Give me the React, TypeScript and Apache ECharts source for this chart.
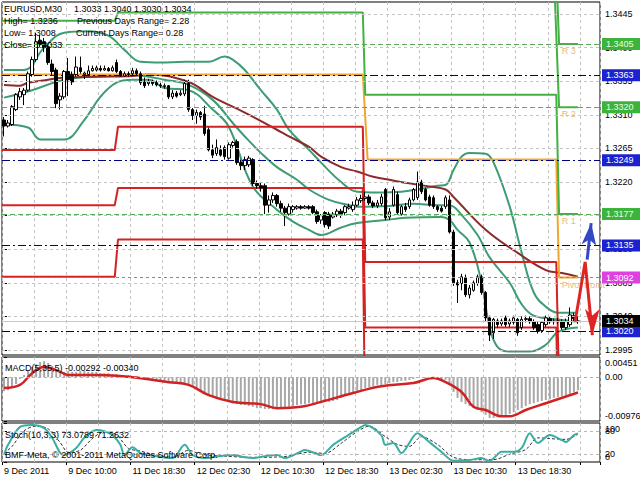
import React, { useEffect, useRef } from "react";
import * as echarts from "echarts";

const FONT = '"Liberation Sans", Arial, sans-serif';

// ---------- data ----------
// candles: [open, close, low, high]
const candles: number[][] = [
  [1.3303,1.3295,1.3281,1.3307],[1.3295,1.3299,1.3293,1.3303],[1.3297,1.3321,1.3295,1.3323],[1.3317,1.3337,1.3315,1.3339],
  [1.3334,1.3341,1.3330,1.3346],[1.3337,1.3343,1.3323,1.3346],[1.3343,1.3365,1.3341,1.3368],[1.3364,1.3384,1.3361,1.3388],
  [1.3384,1.3408,1.3381,1.3420],[1.3410,1.3404,1.3401,1.3417],[1.3408,1.3400,1.3394,1.3413],[1.3401,1.3380,1.3377,1.3404],
  [1.3378,1.3368,1.3362,1.3384],[1.3370,1.3325,1.3319,1.3373],[1.3330,1.3335,1.3317,1.3339],[1.3334,1.3368,1.3331,1.3370],
  [1.3368,1.3357,1.3335,1.3386],[1.3364,1.3354,1.3350,1.3368],[1.3364,1.3374,1.3361,1.3388],[1.3373,1.3368,1.3365,1.3388],
  [1.3364,1.3366,1.3358,1.3368],[1.3364,1.3369,1.3362,1.3376],[1.3369,1.3372,1.3368,1.3376],[1.3370,1.3373,1.3368,1.3376],
  [1.3372,1.3370,1.3368,1.3376],[1.3370,1.3372,1.3369,1.3376],[1.3372,1.3369,1.3368,1.3374],[1.3369,1.3373,1.3368,1.3376],
  [1.3380,1.3368,1.3366,1.3384],[1.3368,1.3362,1.3361,1.3370],[1.3362,1.3365,1.3361,1.3368],[1.3365,1.3364,1.3361,1.3368],
  [1.3365,1.3369,1.3362,1.3373],[1.3369,1.3365,1.3362,1.3372],[1.3365,1.3353,1.3350,1.3368],[1.3354,1.3349,1.3346,1.3360],
  [1.3352,1.3354,1.3349,1.3358],[1.3354,1.3352,1.3349,1.3357],[1.3353,1.3350,1.3348,1.3356],[1.3350,1.3349,1.3346,1.3353],
  [1.3349,1.3348,1.3345,1.3352],[1.3349,1.3334,1.3331,1.3350],[1.3334,1.3339,1.3331,1.3343],[1.3339,1.3335,1.3333,1.3342],
  [1.3337,1.3339,1.3335,1.3343],[1.3338,1.3352,1.3335,1.3357],[1.3352,1.3317,1.3314,1.3357],[1.3317,1.3309,1.3303,1.3319],
  [1.3309,1.3313,1.3298,1.3317],[1.3313,1.3307,1.3303,1.3315],[1.3311,1.3285,1.3282,1.3322],[1.3290,1.3263,1.3261,1.3293],
  [1.3263,1.3256,1.3252,1.3270],[1.3258,1.3266,1.3255,1.3277],[1.3263,1.3256,1.3254,1.3269],[1.3266,1.3254,1.3250,1.3269],
  [1.3252,1.3270,1.3250,1.3273],[1.3269,1.3273,1.3266,1.3275],[1.3274,1.3246,1.3243,1.3277],[1.3246,1.3242,1.3236,1.3250],
  [1.3242,1.3250,1.3236,1.3254],[1.3243,1.3252,1.3240,1.3255],[1.3250,1.3218,1.3215,1.3252],[1.3218,1.3215,1.3211,1.3222],
  [1.3215,1.3212,1.3207,1.3219],[1.3215,1.3189,1.3177,1.3218],[1.3189,1.3196,1.3179,1.3202],[1.3196,1.3202,1.3192,1.3206],
  [1.3202,1.3191,1.3187,1.3204],[1.3191,1.3185,1.3180,1.3195],[1.3185,1.3179,1.3161,1.3188],[1.3177,1.3187,1.3175,1.3191],
  [1.3183,1.3187,1.3179,1.3189],[1.3185,1.3187,1.3183,1.3189],[1.3187,1.3185,1.3183,1.3189],[1.3185,1.3187,1.3184,1.3189],
  [1.3187,1.3185,1.3183,1.3189],[1.3187,1.3179,1.3177,1.3189],[1.3180,1.3167,1.3164,1.3183],[1.3169,1.3175,1.3164,1.3177],
  [1.3179,1.3163,1.3159,1.3181],[1.3177,1.3161,1.3157,1.3180],[1.3173,1.3177,1.3171,1.3180],[1.3176,1.3181,1.3173,1.3184],
  [1.3181,1.3176,1.3172,1.3184],[1.3179,1.3187,1.3176,1.3189],[1.3185,1.3187,1.3183,1.3191],[1.3183,1.3189,1.3180,1.3194],
  [1.3189,1.3196,1.3187,1.3200],[1.3195,1.3198,1.3192,1.3203],[1.3198,1.3200,1.3195,1.3207],[1.3200,1.3192,1.3189,1.3203],
  [1.3192,1.3188,1.3185,1.3195],[1.3188,1.3192,1.3185,1.3196],[1.3191,1.3200,1.3188,1.3204],[1.3210,1.3172,1.3169,1.3212],
  [1.3173,1.3180,1.3169,1.3185],[1.3189,1.3210,1.3187,1.3214],[1.3203,1.3179,1.3176,1.3207],[1.3177,1.3187,1.3175,1.3189],
  [1.3187,1.3183,1.3180,1.3192],[1.3187,1.3196,1.3184,1.3199],[1.3196,1.3210,1.3194,1.3212],[1.3199,1.3220,1.3196,1.3234],
  [1.3220,1.3207,1.3204,1.3223],[1.3210,1.3196,1.3194,1.3212],[1.3200,1.3189,1.3187,1.3203],[1.3199,1.3187,1.3184,1.3202],
  [1.3187,1.3183,1.3180,1.3189],[1.3185,1.3181,1.3179,1.3188],[1.3187,1.3199,1.3184,1.3202],[1.3196,1.3153,1.3151,1.3202],
  [1.3153,1.3085,1.3081,1.3156],[1.3085,1.3082,1.3058,1.3089],[1.3084,1.3093,1.3075,1.3097],[1.3092,1.3069,1.3066,1.3096],
  [1.3069,1.3078,1.3064,1.3082],[1.3075,1.3085,1.3073,1.3088],[1.3084,1.3093,1.3081,1.3096],[1.3093,1.3072,1.3069,1.3096],
  [1.3072,1.3038,1.3033,1.3074],[1.3038,1.3015,1.3007,1.3041],[1.3018,1.3036,1.3010,1.3038],[1.3034,1.3029,1.3025,1.3037],
  [1.3030,1.3034,1.3027,1.3037],[1.3038,1.3029,1.3026,1.3041],[1.3030,1.3034,1.3026,1.3037],[1.3032,1.3038,1.3029,1.3041],
  [1.3036,1.3018,1.3014,1.3038],[1.3025,1.3036,1.3022,1.3040],[1.3036,1.3037,1.3032,1.3041],[1.3037,1.3033,1.3030,1.3040],
  [1.3033,1.3025,1.3022,1.3036],[1.3029,1.3020,1.3017,1.3033],[1.3021,1.3032,1.3018,1.3034],[1.3029,1.3038,1.3026,1.3041],
  [1.3037,1.3033,1.3030,1.3040],[1.3033,1.3034,1.3029,1.3037],[1.3034,1.3033,1.3030,1.3038],[1.3033,1.3025,1.3022,1.3036],
  [1.3025,1.3033,1.3022,1.3037],[1.3029,1.3042,1.3026,1.3052],[1.3041,1.3037,1.3033,1.3045],[1.3033,1.3034,1.3030,1.3040],
];

const timeLabels = ["9 Dec 2011", "9 Dec 10:00", "11 Dec 18:30", "12 Dec 02:30", "12 Dec 10:30", "12 Dec 18:30", "13 Dec 02:30", "13 Dec 10:30", "13 Dec 18:30"];
const labelEvery = 16;
const slotCount = 149;

const priceMin = 1.29883;
const priceMax = 1.34611;
const priceTicks = [1.2995, 1.304, 1.3085, 1.313, 1.3175, 1.322, 1.3265, 1.331, 1.3355, 1.34, 1.3445];

// [bar index, price]
const bbUpper: number[][] = [[0,1.3370],[5,1.3370],[10,1.3400],[15,1.3420],[21,1.3422],[26,1.3416],[30,1.3397],[34,1.3381],[39,1.3380],[45,1.3381],[51,1.3381],[55,1.3388],[57,1.3384],[60,1.3370],[64,1.3343],[68,1.3317],[71,1.3290],[76,1.3263],[79,1.3246],[84,1.3220],[88,1.3207],[93,1.3206],[99,1.3207],[103,1.3210],[108,1.3215],[110,1.3216],[112,1.3236],[114,1.3254],[116,1.3259],[120,1.3258],[122,1.3246],[126,1.3187],[129,1.3125],[132,1.3072],[135,1.3053],[138,1.3045],[143,1.3045]];
const bbMiddle: number[][] = [[0,1.3333],[7,1.3343],[15,1.3357],[24,1.3362],[31,1.3364],[35,1.3362],[40,1.3357],[46,1.3350],[52,1.3330],[57,1.3299],[60,1.3281],[64,1.3259],[68,1.3240],[73,1.3223],[76,1.3210],[81,1.3196],[86,1.3189],[88,1.3187],[96,1.3188],[102,1.3191],[108,1.3189],[111,1.3189],[114,1.3176],[118,1.3149],[121,1.3119],[126,1.3085],[129,1.3056],[132,1.3041],[138,1.3036],[143,1.3033]];
const bbLower: number[][] = [[0,1.3297],[6,1.3293],[9,1.3277],[15,1.3277],[20,1.3303],[24,1.3334],[28,1.3353],[32,1.3357],[36,1.3357],[40,1.3346],[46,1.3343],[52,1.3317],[56,1.3294],[62,1.3214],[68,1.3183],[72,1.3167],[76,1.3156],[79,1.3149],[84,1.3159],[88,1.3165],[95,1.3169],[100,1.3172],[109,1.3173],[111,1.3169],[113,1.3156],[116,1.3139],[119,1.3085],[121,1.3026],[123,1.2999],[126,1.2993],[131,1.2993],[135,1.3002],[138,1.3019],[143,1.3025]];
const maLine: number[][] = [[0,1.3350],[4,1.3349],[6,1.3353],[11,1.3357],[15,1.3360],[24,1.3361],[32,1.3362],[36,1.3364],[46,1.3354],[52,1.3334],[60,1.3313],[68,1.3290],[71,1.3281],[76,1.3267],[79,1.3254],[84,1.3240],[88,1.3234],[92,1.3227],[96,1.3223],[100,1.3219],[106,1.3214],[110,1.3210],[112,1.3200],[120,1.3156],[128,1.3125],[135,1.3102],[139,1.3098],[143,1.3093]];

// daily pivot levels (stepped)
const pivotS1: number[][] = [[-0.5,1.3263],[27.6,1.3263],[28.4,1.3294],[89.4,1.3294],[90,1.3113],[137.6,1.3113],[138.3,1.2948],[143,1.2948]];
const pivotS2: number[][] = [[-0.5,1.3189],[27.6,1.3189],[28.4,1.3212],[89.4,1.3212],[90,1.3025],[137.6,1.3025],[138.3,1.2864],[143,1.2864]];
const pivotS3: number[][] = [[-0.5,1.3093],[27.6,1.3093],[28.4,1.3143],[89.4,1.3143],[90,1.2889],[137.6,1.2889],[138.3,1.2720],[143,1.2720]];
const pivotP: number[][] = [[-0.5,1.3364],[89.4,1.3364],[90.6,1.3250],[137.6,1.3250],[138.3,1.3092],[143,1.3092]];
const pivotR1: number[][] = [[-0.5,1.3436],[27.6,1.3436],[28.4,1.3447],[89.4,1.3447],[90,1.3337],[137.6,1.3337],[138.3,1.3177],[143,1.3177]];
const pivotR2: number[][] = [[137.2,1.3474],[138.3,1.3320],[143,1.3320]];
const pivotR3: number[][] = [[137.2,1.3561],[138.3,1.3405],[143,1.3405]];
const pivotLabelNames = ["R 3", "R 2", "R 1", "Pivot Point"];
const pivotLabelLevels = [1.3405, 1.332, 1.3177, 1.3092];
const pivotLabelIndex = 138;

const navyLevels = [1.3363, 1.3249, 1.3135, 1.302];
const greenLevels = [1.3405, 1.332, 1.3177];
const magentaLevels = [1.3092];
const bidLevel = 1.3034;

const redArrow: number[][] = [[142.3,1.3033],[144.8,1.3113],[146.6,1.3015]];
const blueArrow: number[][] = [[145.3,1.3116],[146.3,1.3165]];

const macdHist = [
  -0.0031,-0.0029,-0.0024,-0.0015,-0.0004,0.0005,0.0014,0.0023,0.0029,0.0034,0.0036,0.0032,0.0025,0.0016,0.0012,0.0012,
  0.0014,0.0012,0.0012,0.0014,0.0014,0.0012,0.0012,0.0012,0.0009,0.0009,0.0009,0.0007,0.0007,0.0005,0.0005,0.0005,
  0.0003,0.0003,0.0000,-0.0002,-0.0004,-0.0006,-0.0006,-0.0008,-0.0008,-0.0011,-0.0013,-0.0013,-0.0013,-0.0015,-0.0017,-0.0022,
  -0.0026,-0.0031,-0.0035,-0.0040,-0.0044,-0.0049,-0.0051,-0.0053,-0.0055,-0.0058,-0.0060,-0.0062,-0.0062,-0.0064,-0.0066,-0.0069,
  -0.0069,-0.0071,-0.0071,-0.0071,-0.0071,-0.0069,-0.0069,-0.0066,-0.0064,-0.0062,-0.0060,-0.0060,-0.0058,-0.0058,-0.0058,-0.0058,
  -0.0055,-0.0055,-0.0053,-0.0051,-0.0046,-0.0042,-0.0037,-0.0035,-0.0033,-0.0029,-0.0024,-0.0022,-0.0020,-0.0017,-0.0017,-0.0015,
  -0.0013,-0.0011,-0.0011,-0.0008,-0.0008,-0.0006,-0.0004,0.0000,0.0000,-0.0002,-0.0002,-0.0004,-0.0006,-0.0006,-0.0006,-0.0013,
  -0.0033,-0.0046,-0.0055,-0.0060,-0.0064,-0.0069,-0.0073,-0.0078,-0.0084,-0.0091,-0.0091,-0.0089,-0.0087,-0.0084,-0.0082,-0.0078,
  -0.0073,-0.0069,-0.0064,-0.0060,-0.0058,-0.0055,-0.0053,-0.0051,-0.0049,-0.0046,-0.0044,-0.0042,-0.0040,-0.0037,-0.0033,-0.00292,
];
const macdSignal: number[][] = [[0,-0.0024],[4,-0.0017],[7,0.0009],[10,0.0023],[14,0.0012],[16,0.0005],[24,0.0005],[32,0.0],[41,-0.0011],[46,-0.0017],[51,-0.0040],[57,-0.0055],[64,-0.0060],[68,-0.0069],[74,-0.0066],[79,-0.0055],[87,-0.0035],[94,-0.0020],[102,-0.0013],[107,-0.0002],[110,-0.0011],[114,-0.0033],[117,-0.0066],[120,-0.0073],[124,-0.0087],[126,-0.0087],[130,-0.0073],[135,-0.0058],[143,-0.0034]];
const macdMin = -0.00976;
const macdMax = 0.00451;
const macdTicks = [0.00451, 0, -0.00976];
const macdTickLabels = ["0.00451", "0.00", "-0.00976"];

const stochMain: number[][] = [[0,18],[1,44],[4,90],[7,95],[10,87],[12,62],[14,23],[15,18],[18,36],[20,62],[23,82],[25,79],[27,69],[29,44],[30,18],[32,38],[34,23],[36,18],[39,13],[42,10],[45,44],[47,18],[50,10],[53,14],[57,18],[60,12],[62,10],[65,15],[68,18],[70,10],[73,22],[75,31],[79,18],[82,44],[85,64],[89,90],[90,95],[94,69],[95,44],[97,49],[99,23],[103,74],[106,51],[109,26],[112,3],[116,5],[119,10],[121,3],[124,26],[127,26],[129,36],[131,74],[133,49],[136,69],[139,56],[140,51],[142,69],[143,73.08]];
const stochSignal: number[][] = [[0,22],[2,40],[5,80],[8,92],[11,85],[14,50],[16,25],[19,30],[22,60],[25,78],[28,70],[31,35],[34,28],[37,20],[42,12],[46,30],[49,20],[55,15],[62,12],[70,14],[76,25],[80,22],[84,48],[88,78],[91,92],[95,65],[98,45],[101,40],[104,65],[108,45],[112,12],[117,6],[122,6],[126,20],[130,32],[133,62],[136,60],[140,58],[143,71.26]];
const stochTicks = [100, 80, 20, 0];
const stochTickLabels = ["100", "80", "20", "0"];
const stochLevels = [80, 20];

const headerLeft = ["EURUSD,M30", "High= 1.3236", "Low= 1.3008", "Close= 1.3033"];
const headerRight = ["Previous Days Range= 2.28", "Current Days Range= 0.28"];
const macdTitle = "MACD(5,35,5) -0.00292 -0.00340";
const stochTitle = "Stoch(10,3,3) 73.0789 71.2632";
const copyright = "BMF-Meta, \u00A9 2001-2011 MetaQuotes Software Corp.";

// ---------- option ----------
const textEl = (id: string, t: string, x: number, y: number) => ({
  id, type: "text", x, y, z: 100, silent: true,
  style: { text: t, fill: "#000", font: `9px ${FONT}`, verticalAlign: "middle", align: "left" },
});

function headerGraphics(): any[] {
  const last = candles[candles.length - 1];
  const ohlcText = [last[0], last[3], last[2], last[1]].map((v) => v.toFixed(4)).join(" ");
  return [
    textEl("h0", headerLeft[0], 4, 9),
    textEl("h1", ohlcText, 74, 9),
    textEl("h2", headerLeft[1], 4, 21),
    textEl("h3", headerRight[0], 77, 21),
    textEl("h4", headerLeft[2], 4, 33),
    textEl("h5", headerRight[1], 76, 33),
    textEl("h6", headerLeft[3], 4, 45),
    textEl("h7", macdTitle, 5, 368),
    textEl("h8", stochTitle, 5, 435),
    textEl("h9", copyright, 5, 455),
  ];
}

function buildOption(): any {
  const cats = Array.from({ length: slotCount }, (_, i) => String(i));
  const grid = (top: number, height: number) => ({
    left: 2, top, width: 598, height, show: true, borderColor: "#000", borderWidth: 1, backgroundColor: "#fff",
  });
  const split = { show: true, interval: 7, lineStyle: { color: "#c4c4c4", type: [3, 3], width: 1 } };
  const catAxis = (gi: number, labels: boolean) => ({
    type: "category", gridIndex: gi, data: cats, boundaryGap: true,
    axisLine: { show: false },
    axisTick: labels ? { show: true, interval: labelEvery - 1, length: 3, lineStyle: { color: "#000" } } : { show: false },
    axisLabel: labels
      ? { show: true, interval: labelEvery - 1, align: "left", margin: 4, color: "#000", fontFamily: FONT, fontSize: 9,
          formatter: (_v: string, idx: number) => timeLabels[idx / labelEvery] ?? "" }
      : { show: false },
    splitLine: split,
  });
  const valAxis = (gi: number) => ({ type: "value", gridIndex: gi, min: -0.5, max: slotCount - 0.5, show: false });
  const lbl = { color: "#000", fontFamily: FONT, fontSize: 9 };

  const lineS = (data: number[][], color: string, width: number, extra: any = {}) => ({
    type: "line", xAxisIndex: 1, yAxisIndex: 0, data, showSymbol: false, symbol: "none", silent: true,
    lineStyle: { color, width }, z: 2, ...extra,
  });

  const boxLabel = (v: number, bg: string, fg = "#fff") => ({
    show: true, position: "end", distance: 2, formatter: v.toFixed(4), backgroundColor: bg, color: fg,
    padding: [1, 10, 0, 4], fontFamily: FONT, fontSize: 9, lineHeight: 11,
  });

  const levelData: any[] = [
    ...greenLevels.map((v) => ({ yAxis: v, lineStyle: { color: "#5aa85a", type: [5, 3], width: 1 }, label: boxLabel(v, "#3cb43c", "#e8ffe8") })),
    ...navyLevels.map((v) => ({ yAxis: v, lineStyle: { color: "#000080", type: [8, 3, 2, 3], width: 1 }, label: boxLabel(v, "#1c22d0") })),
    ...magentaLevels.map((v) => ({ yAxis: v, lineStyle: { color: "#c060c0", type: [3, 3], width: 1 }, label: boxLabel(v, "#e040e0") })),
    { yAxis: bidLevel, lineStyle: { color: "#c8c8c8", type: "solid", width: 1 }, label: boxLabel(bidLevel, "#000") },
  ];

  const arrowData = (pts: number[][], size: number[], rot: number) =>
    pts.map((p, k) => k === pts.length - 1
      ? { value: p, symbol: "arrow", symbolSize: size, symbolRotate: rot }
      : { value: p, symbol: "none" });

  const sideAxis = (gi: number, min: number, max: number, ticks: number[], withLabels: boolean) => ({
    type: "value", gridIndex: gi, position: "right", min, max,
    axisLine: { show: false }, splitLine: { show: false },
    axisTick: { show: true, customValues: ticks, length: 3, lineStyle: { color: "#000" } },
    axisLabel: withLabels
      ? { ...lbl, customValues: ticks, margin: 5, formatter: (v: number) => v.toFixed(4) }
      : { show: false },
  });

  return {
    animation: false,
    backgroundColor: "#fff",
    textStyle: { fontFamily: FONT, fontSize: 9 },
    grid: [grid(2, 353), grid(357, 64), grid(423, 39)],
    xAxis: [catAxis(0, false), valAxis(0), catAxis(1, false), valAxis(1), catAxis(2, true), valAxis(2)],
    yAxis: [
      sideAxis(0, priceMin, priceMax, priceTicks, true),
      sideAxis(1, macdMin, macdMax, macdTicks, false),
      sideAxis(2, 0, 100, stochTicks, false),
    ],
    series: [
      lineS(bbUpper, "#3d9c74", 2, {
        smooth: 0.4,
        markLine: { silent: true, precision: 5, symbol: ["none", "none"], label: { show: false },
          lineStyle: { color: "#c4c4c4", type: [3, 3], width: 1 },
          data: priceTicks.map((v) => ({ yAxis: v })) },
      }),
      lineS(bbMiddle, "#3d9c74", 2, { smooth: 0.4 }),
      lineS(bbLower, "#3d9c74", 2, { smooth: 0.4 }),
      lineS(maLine, "#8c2b2b", 2, { smooth: 0.4 }),
      lineS(pivotS3, "#d42222", 2),
      lineS(pivotS2, "#d42222", 2),
      lineS(pivotS1, "#d42222", 2),
      lineS(pivotP, "#f2a630", 2),
      lineS(pivotR1, "#44b044", 2),
      lineS(pivotR2, "#44b044", 2),
      lineS(pivotR3, "#44b044", 2),
      {
        type: "scatter", xAxisIndex: 1, yAxisIndex: 0, symbolSize: 0, silent: true, z: 2,
        data: pivotLabelLevels.map((v, k) => [pivotLabelIndex, v, pivotLabelNames[k]]),
        label: { show: true, position: "right", distance: 4, offset: [0, 7], color: "#dcaa58", fontFamily: FONT, fontSize: 9,
          formatter: (p: any) => p.value[2] },
      },
      {
        type: "candlestick", xAxisIndex: 0, yAxisIndex: 0, data: candles, barWidth: 3, z: 3, silent: true,
        itemStyle: { color: "#fff", color0: "#000", borderColor: "#000", borderColor0: "#000", borderWidth: 1 },
      },
      {
        type: "line", xAxisIndex: 1, yAxisIndex: 0, data: arrowData(redArrow, [11, 26], 180), z: 5, silent: true,
        showSymbol: true, showAllSymbol: true, lineStyle: { color: "#e02424", width: 3 }, itemStyle: { color: "#e02424" },
      },
      {
        type: "line", xAxisIndex: 1, yAxisIndex: 0, data: arrowData(blueArrow, [11, 22], -6), z: 5, silent: true,
        showSymbol: true, showAllSymbol: true, lineStyle: { color: "#3448c4", width: 3 }, itemStyle: { color: "#3448c4" },
        markLine: { silent: true, precision: 5, symbol: ["none", "none"], data: levelData },
      },
      {
        type: "bar", xAxisIndex: 2, yAxisIndex: 1, data: macdHist, barWidth: 2, silent: true,
        itemStyle: { color: "#a8a8a8" },
        markLine: { silent: true, precision: 5, symbol: ["none", "none"], label: { show: false },
          lineStyle: { color: "#b0b0b0", type: [3, 3], width: 1 }, data: [{ yAxis: 0 }] },
      },
      {
        type: "line", xAxisIndex: 3, yAxisIndex: 1, data: macdSignal, showSymbol: false, smooth: 0.4, silent: true,
        lineStyle: { color: "#d02222", width: 2.5 },
      },
      {
        type: "line", xAxisIndex: 5, yAxisIndex: 2, data: stochSignal, showSymbol: false, smooth: 0.3, silent: true,
        lineStyle: { color: "#303030", width: 1, type: [3, 2] },
        markLine: { silent: true, precision: 2, symbol: ["none", "none"], label: { show: false },
          lineStyle: { color: "#b8b8b8", type: [3, 3], width: 1 }, data: stochLevels.map((v) => ({ yAxis: v })) },
      },
      {
        type: "line", xAxisIndex: 5, yAxisIndex: 2, data: stochMain, showSymbol: false, smooth: 0.3, silent: true,
        lineStyle: { color: "#3aaea2", width: 2 },
      },
    ],
    graphic: headerGraphics(),
  };
}

// tick labels of the two indicator panels, placed through the axes' own scales
function sideLabels(chart: any): any[] {
  const out: any[] = [];
  const place = (axisIndex: number, ticks: number[], labels: string[], idPrefix: string) => {
    ticks.forEach((v, k) => {
      const y = chart.convertToPixel({ yAxisIndex: axisIndex }, v);
      const nudge = k === 0 ? 6 : k === ticks.length - 1 ? -5 : 0; // keep end labels inside the panel
      out.push(textEl(`${idPrefix}${k}`, labels[k], 605, y + nudge));
    });
  };
  place(1, macdTicks, macdTickLabels, "m");
  place(2, stochTicks, stochTickLabels, "s");
  return out;
}

export default function App() {
  const ref = useRef<HTMLDivElement>(null);
  useEffect(() => {
    if (!ref.current) return;
    const chart = echarts.init(ref.current, undefined, { renderer: "svg" });
    chart.setOption(buildOption());
    chart.setOption({ graphic: [...headerGraphics(), ...sideLabels(chart)] }, { replaceMerge: ["graphic"] });
    return () => chart.dispose();
  }, []);
  return <div ref={ref} style={{ position: "fixed", left: 0, top: 0, width: 640, height: 480, background: "#fff" }} />;
}
